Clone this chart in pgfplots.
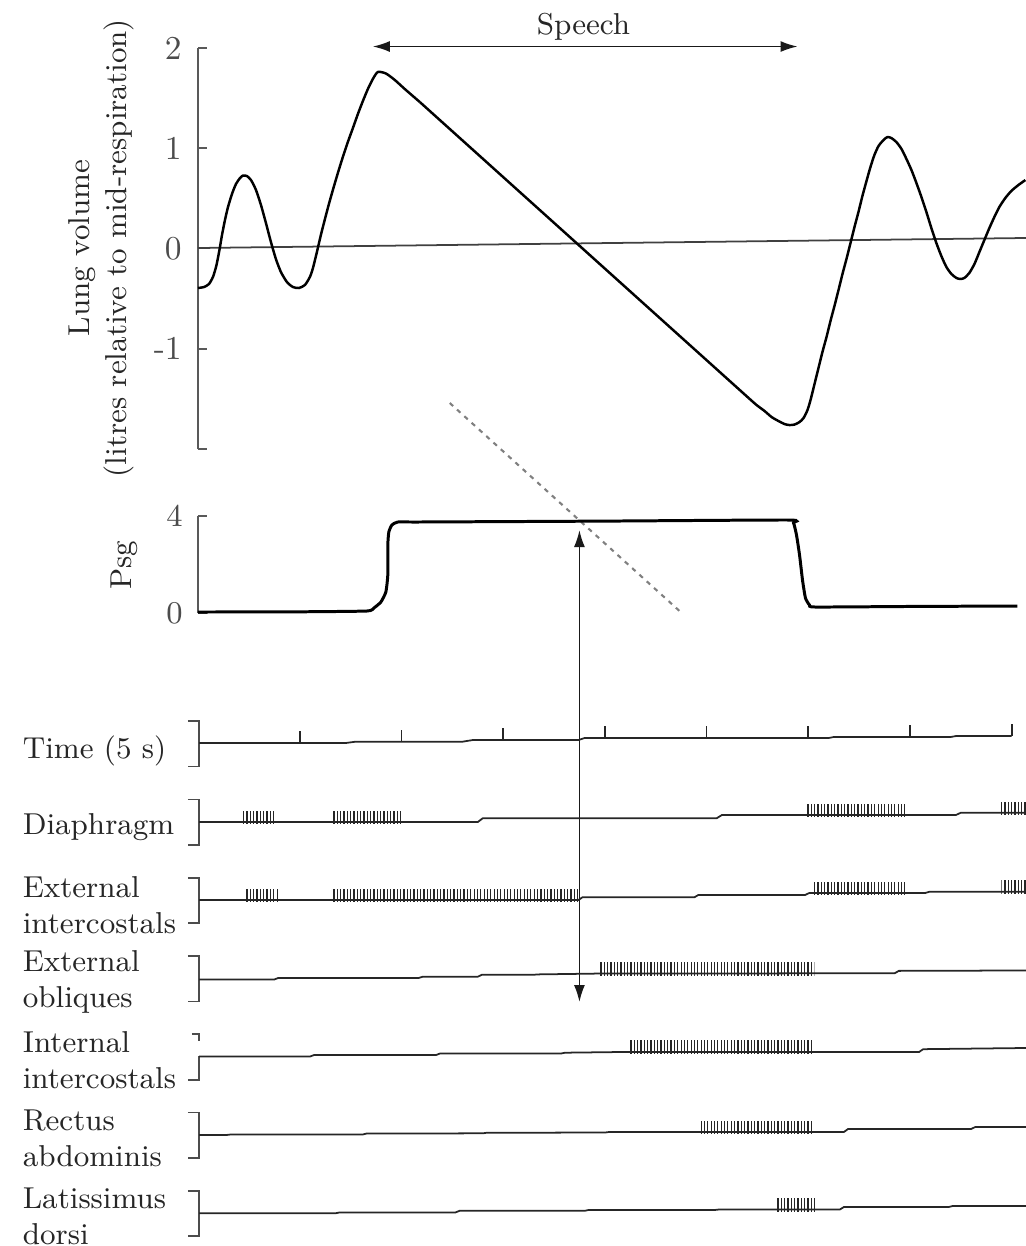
\documentclass[border=0pt]{standalone}
\usepackage{pgfplots}
\pgfplotsset{compat=1.18}
\usetikzlibrary{arrows.meta,patterns.meta}
\newcommand\lab{\fontsize{8.6}{10.3}\selectfont}
\begin{document}
\begin{tikzpicture}
\pgfplotsset{
  panel/.style={scale only axis, width=82.8mm, xmin=0, xmax=8.14, clip=false},
  yaxisstyle/.style={axis x line=none, axis y line=left, y axis line style={-, black!65, line width=0.5pt},
    every outer y axis line/.append style={-}, tick align=inside, major tick length=0.9mm,
    tick style={black!65, line width=0.5pt}, xtick=\empty},
  burst/.style={draw=none, pattern={Lines[angle=90,distance=0.95pt,line width=0.35pt]}, pattern color=black!85},
  base/.style={black!85, line width=0.5pt},
  brk/.style={black!70, line width=0.5pt},
  lung/.style={black, line width=0.7pt},
}
\tikzset{dbl/.style={{Latex[length=1.7mm,width=1.1mm]}-{Latex[length=1.7mm,width=1.1mm]}, black!90, line width=0.45pt},
  rowlab/.style={anchor=west, align=left, font=\lab, text=black!85, inner xsep=0pt}}
% ---------------- Lung volume ----------------
\begin{axis}[panel, yaxisstyle, at={(19.8mm,-44.9mm)}, anchor=south west, height=40.1mm,
  ymin=-2, ymax=2, ytick={-2,-1,0,1,2}, yticklabels={,-1,0,1,2},
  yticklabel style={font=\fontsize{9.5}{11}\selectfont, text=black!70, xshift=-0.4mm}]
\addplot[black!75, line width=0.5pt] coordinates {(0,0.005) (8.14,0.105)};
\addplot[lung, smooth, tension=0.4] coordinates {
(0,-0.394) (0.059,-0.384) (0.108,-0.354) (0.147,-0.284) (0.177,-0.185) (0.196,-0.095)
(0.216,0.015) (0.236,0.135) (0.265,0.284) (0.295,0.414) (0.334,0.544) (0.373,0.643)
(0.413,0.703) (0.442,0.728) (0.481,0.723) (0.521,0.683) (0.570,0.584) (0.619,0.434)
(0.668,0.254) (0.717,0.065) (0.766,-0.105) (0.815,-0.234) (0.874,-0.334) (0.933,-0.384)
(0.992,-0.394) (1.051,-0.364) (1.100,-0.284) (1.130,-0.195) (1.169,-0.035) (1.208,0.135)
(1.248,0.294) (1.287,0.444) (1.326,0.584) (1.375,0.753) (1.424,0.913) (1.473,1.062)
(1.523,1.202) (1.572,1.342) (1.621,1.471) (1.670,1.591) (1.719,1.691) (1.768,1.761)
(1.847,1.746) (1.935,1.681) (2.033,1.591) (2.181,1.461)};
\addplot[lung] coordinates {(2.181,1.461) (5.413,-1.491)};
\addplot[lung, smooth, tension=0.4] coordinates {
(5.413,-1.491) (5.491,-1.561) (5.570,-1.621) (5.639,-1.681) (5.707,-1.721) (5.766,-1.751)
(5.815,-1.761) (5.865,-1.756) (5.914,-1.731) (5.953,-1.691) (5.992,-1.611) (6.022,-1.511)
(6.061,-1.352) (6.100,-1.192) (6.139,-1.032) (6.179,-0.883) (6.218,-0.723) (6.257,-0.574)
(6.297,-0.414) (6.336,-0.254) (6.375,-0.105) (6.415,0.055) (6.454,0.214) (6.493,0.364)
(6.532,0.524) (6.572,0.673) (6.611,0.813) (6.650,0.933) (6.690,1.022) (6.739,1.082)
(6.778,1.112) (6.817,1.102) (6.866,1.062) (6.916,0.993) (6.965,0.893) (7.014,0.783)
(7.063,0.653) (7.112,0.514) (7.161,0.364) (7.210,0.204) (7.259,0.055) (7.308,-0.075)
(7.358,-0.185) (7.407,-0.254) (7.456,-0.294) (7.495,-0.304) (7.534,-0.294) (7.583,-0.244)
(7.633,-0.155) (7.682,-0.035) (7.731,0.085) (7.780,0.204) (7.829,0.314) (7.878,0.414)
(7.937,0.504) (7.996,0.574) (8.065,0.633) (8.134,0.683)};
\draw[dbl] (axis cs:1.719,2.015) -- (axis cs:5.894,2.015);
\node[anchor=base, font=\lab, text=black!85] at (axis cs:3.79,2.13) {Speech};
\node[rotate=90, align=center, font=\lab, text=black!85] at (axis cs:-0.95,0.005)
  {Lung volume\\(litres relative to mid-respiration)};
\draw[black!50, line width=0.6pt, dash pattern=on 1.3pt off 1.5pt]
  (axis cs:2.475,-1.541) -- (axis cs:4.745,-3.626);
\end{axis}
% ---------------- Psg ----------------
\begin{axis}[panel, yaxisstyle, at={(19.8mm,-61.3mm)}, anchor=south west, height=9.7mm,
  ymin=0, ymax=4, ytick={0,4}, yticklabels={0,4},
  yticklabel style={font=\fontsize{9}{11}\selectfont, text=black!70, xshift=-0.3mm}]
\addplot[black, line width=0.85pt, smooth, tension=0.3] coordinates {
(0,0.041) (1.0,0.05) (1.66,0.082) (1.729,0.206) (1.798,0.454) (1.847,0.866) (1.866,1.567)
(1.866,2.804) (1.876,3.34) (1.906,3.629) (1.965,3.753) (2.181,3.753) (4.0,3.79)
(5.806,3.835) (5.855,3.711) (5.884,3.216) (5.914,2.392) (5.943,1.361) (5.972,0.619)
(6.012,0.33) (6.071,0.247) (7.0,0.27) (8.055,0.289)};
\node[rotate=90, font=\lab, text=black!85] at (axis cs:-0.72,1.98) {Psg};
\draw[dbl] (axis cs:3.75,-16.04) -- (axis cs:3.75,3.42);
\end{axis}
% ---------------- EMG rows ----------------
\begin{axis}[panel, hide axis, at={(19.8mm,-124.412mm)}, anchor=south west, height=54.027mm,
  ymin=-6.4, ymax=0.5]
% brackets
\addplot[brk] coordinates {(-0.1,0.28) (0.01,0.28) (0.01,-0.3) (-0.1,-0.3)};
\addplot[brk] coordinates {(-0.1,-0.72) (0.01,-0.72) (0.01,-1.3) (-0.1,-1.3)};
\addplot[brk] coordinates {(-0.1,-1.72) (0.01,-1.72) (0.01,-2.3) (-0.1,-2.3)};
\addplot[brk] coordinates {(-0.1,-2.72) (0.01,-2.72) (0.01,-3.3) (-0.1,-3.3)};
\addplot[brk] coordinates {(-0.06,-3.72) (0.01,-3.72) (0.01,-3.8)};
\addplot[brk] coordinates {(0.01,-4.0) (0.01,-4.3) (-0.1,-4.3)};
\addplot[brk] coordinates {(-0.1,-4.72) (0.01,-4.72) (0.01,-5.3) (-0.1,-5.3)};
\addplot[brk] coordinates {(-0.1,-5.72) (0.01,-5.72) (0.01,-6.3) (-0.1,-6.3)};
% time row
\addplot[base] coordinates {(0.01,0) (1.45,0) (1.55,0.017) (2.6,0.017) (2.7,0.038) (3.74,0.038)
  (3.8,0.064) (6.2,0.064) (6.25,0.077) (7.4,0.077) (7.45,0.089) (8.0,0.089)};
\addplot[base, unbounded coords=jump] coordinates {
(1,0) (1,0.15) (2,nan) (2,0.017) (2,0.167) (3,nan) (3,0.038) (3,0.188) (4,nan)
(4,0.064) (4,0.214) (5,nan) (5,0.064) (5,0.214) (6,nan) (6,0.064) (6,0.214) (7,nan)
(7,0.077) (7,0.227) (8,nan) (8,0.089) (8,0.239)};
% diaphragm
\addplot[base] coordinates {(0.01,-1.01) (2.75,-1.01) (2.8,-0.96) (5.1,-0.96) (5.15,-0.92)
  (7.45,-0.92) (7.5,-0.89) (8.14,-0.89)};
\addplot[burst] coordinates {(0.442,-1.03) (0.442,-0.88) (0.776,-0.88) (0.776,-1.03)};
\addplot[burst] coordinates {(1.326,-1.03) (1.326,-0.88) (2.004,-0.88) (2.004,-1.03)};
\addplot[burst] coordinates {(5.982,-0.94) (5.982,-0.79) (6.965,-0.79) (6.965,-0.94)};
\addplot[burst] coordinates {(7.878,-0.91) (7.878,-0.76) (8.14,-0.76) (8.14,-0.91)};
% external intercostals
\addplot[base] coordinates {(0.01,-2.005) (3.74,-2.005) (3.78,-1.97) (4.88,-1.97) (4.92,-1.94)
  (5.97,-1.94) (6.01,-1.915) (7.15,-1.915) (7.19,-1.9) (8.14,-1.9)};
\addplot[burst] coordinates {(0.462,-2.025) (0.462,-1.865) (0.796,-1.865) (0.796,-2.025)};
\addplot[burst] coordinates {(1.326,-2.025) (1.326,-1.865) (3.752,-1.865) (3.752,-2.025)};
\addplot[burst] coordinates {(6.041,-1.935) (6.041,-1.775) (6.965,-1.775) (6.965,-1.935)};
\addplot[burst] coordinates {(7.898,-1.92) (7.898,-1.76) (8.14,-1.76) (8.14,-1.92)};
% external obliques
\addplot[base] coordinates {(0.01,-3.02) (0.75,-3.02) (0.79,-3.0) (2.17,-3.0) (2.21,-2.985)
  (2.75,-2.985) (2.79,-2.96) (3.3,-2.96) (3.34,-2.955) (3.9,-2.945) (6.85,-2.94)
  (6.89,-2.91) (8.14,-2.905)};
\addplot[burst] coordinates {(3.95,-2.965) (3.95,-2.8) (6.06,-2.8) (6.06,-2.965)};
% internal intercostals
\addplot[base] coordinates {(0.01,-4.005) (1.1,-4.005) (1.14,-3.985) (2.34,-3.985)
  (2.38,-3.965) (3.57,-3.965) (3.61,-3.955) (4.24,-3.945) (7.09,-3.945) (7.13,-3.91)
  (8.14,-3.895)};
\addplot[burst] coordinates {(4.24,-3.965) (4.24,-3.8) (6.04,-3.8) (6.04,-3.965)};
% rectus abdominis
\addplot[base] coordinates {(0.01,-5.006) (0.28,-5.006) (0.32,-5.0) (1.62,-5.0) (1.66,-4.987)
  (2.8,-4.985) (2.84,-4.977) (4.0,-4.975) (4.04,-4.968) (6.35,-4.968) (6.39,-4.93)
  (7.6,-4.93) (7.64,-4.905) (8.14,-4.904)};
\addplot[burst] coordinates {(4.93,-4.988) (4.93,-4.825) (6.04,-4.825) (6.04,-4.988)};
% latissimus dorsi
\addplot[base] coordinates {(0.01,-6.006) (1.35,-6.006) (1.39,-5.996) (2.53,-5.996)
  (2.57,-5.975) (3.8,-5.975) (3.84,-5.964) (5.08,-5.964) (5.12,-5.958) (6.31,-5.958)
  (6.35,-5.926) (7.38,-5.926) (7.42,-5.913) (8.14,-5.913)};
\addplot[burst] coordinates {(5.69,-5.978) (5.69,-5.815) (6.08,-5.815) (6.08,-5.978)};
% row labels
\node[rowlab] at (axis cs:-1.729,-0.095) {Time (5 s)};
\node[rowlab] at (axis cs:-1.729,-1.077) {Diaphragm};
\node[rowlab] at (axis cs:-1.729,-2.075) {External\\intercostals};
\node[rowlab] at (axis cs:-1.729,-3.055) {External\\obliques};
\node[rowlab] at (axis cs:-1.729,-4.055) {Internal\\intercostals};
\node[rowlab] at (axis cs:-1.729,-5.05) {Rectus\\abdominis};
\node[rowlab] at (axis cs:-1.729,-6.045) {Latissimus\\dorsi};
\end{axis}
\pgfresetboundingbox
\path (0,0) rectangle (102.6mm,-124.6mm);
\end{tikzpicture}
\end{document}
